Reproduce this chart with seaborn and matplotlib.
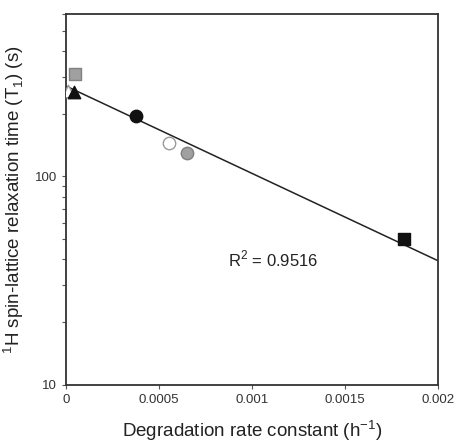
import numpy as np
import pandas as pd
import seaborn as sns
import matplotlib.pyplot as plt

# data
rate = [0.00001, 0.000043, 0.000048, 0.000376, 0.000554, 0.00065, 0.001817]
t1 = [258, 255, 311, 194, 145, 129, 50]
markers = ["^", "^", "s", "o", "o", "o", "s"]
faces = ["white", "#111111", "#a0a0a0", "#111111", "white", "#a0a0a0", "#111111"]
edges = ["#999999", "#111111", "#808080", "#111111", "#999999", "#808080", "#111111"]

x_ticks = [0, 0.0005, 0.001, 0.0015, 0.002]
x_labels = ["0", "0.0005", "0.001", "0.0015", "0.002"]
r2_text = "R$^2$ = 0.9516"

df = pd.DataFrame({"rate": rate, "t1": t1, "marker": markers, "face": faces, "edge": edges})

sns.set_style("ticks")
plt.rcParams["font.family"] = ["Liberation Sans", "DejaVu Sans"]
plt.rcParams["mathtext.fontset"] = "custom"
plt.rcParams["mathtext.rm"] = "Liberation Sans"

fig = plt.figure(figsize=(4.57, 4.42), dpi=100)
ax = fig.add_axes([0.1444, 0.129, 0.8136, 0.839])

# log-linear regression line
slope, intercept = np.polyfit(df["rate"], np.log10(df["t1"]), 1)
xx = np.linspace(0, 0.002, 50)
ax.plot(xx, 10 ** (intercept + slope * xx), color="#222222", lw=1.1, zorder=2)

for _, row in df.iterrows():
    sns.scatterplot(
        x=[row["rate"]], y=[row["t1"]], marker=row["marker"], s=80,
        color=row["face"], edgecolor=row["edge"], linewidth=1.0, ax=ax, zorder=3,
    )

ax.set_yscale("log")
ax.set_xlim(0, 0.002)
ax.set_ylim(10, 600)
ax.set_xticks(x_ticks)
ax.set_xticklabels(x_labels)
ax.set_yticks([10, 100])
ax.set_yticklabels(["10", "100"])
ax.tick_params(axis="both", which="major", labelsize=9.5, labelcolor="#333333",
               length=3, width=0.8, color="#555555")
ax.tick_params(axis="y", which="minor", length=3, width=0.8, color="#555555")

for sp in ax.spines.values():
    sp.set_visible(True)
    sp.set_linewidth(1.3)
    sp.set_color("#333333")

ax.text(0.00087, 40, r2_text, fontsize=12, color="#222222", va="center", ha="left")

ax.set_xlabel("Degradation rate constant (h$^{\\mathregular{-1}}$)", fontsize=13.5, color="#222222", labelpad=9)
ax.set_ylabel("$^{\\mathregular{1}}$H spin-lattice relaxation time (T$_{\\mathregular{1}}$) (s)",
              fontsize=13.5, color="#222222", labelpad=6)

fig.savefig("out.png", dpi=100)
